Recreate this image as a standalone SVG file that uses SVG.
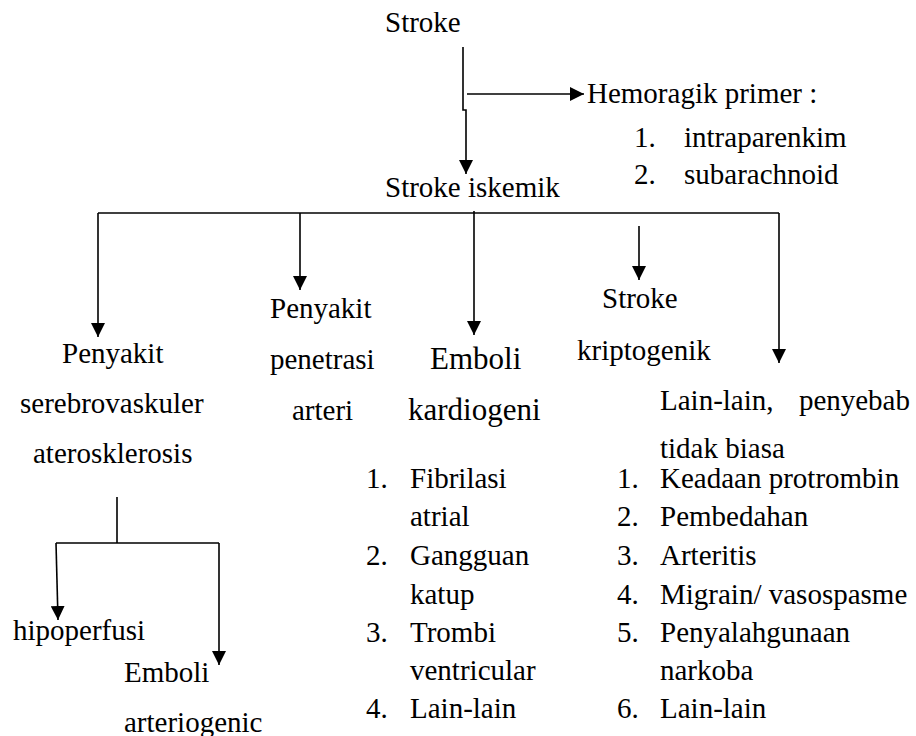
<svg xmlns="http://www.w3.org/2000/svg" width="916" height="736" viewBox="0 0 916 736">
<style>
text{font-family:"Liberation Serif","Times New Roman",serif;font-size:29px;fill:#000}
.big{font-size:31px}
.ln{fill:none;stroke:#000;stroke-width:1.6}
.ar{fill:none;stroke:#000;stroke-width:1.6;marker-end:url(#ah)}
</style>
<defs>
<marker id="ah" viewBox="0 0 10 10" refX="10" refY="5" markerWidth="14" markerHeight="14" markerUnits="userSpaceOnUse" orient="auto">
<path d="M0,0 L10,5 L0,10 z" fill="#000"/>
</marker>
</defs>
<rect width="916" height="736" fill="#fff"/>
<g id="connectors">
<path class="ar" d="M463 47 V110 H466 V174"/>
<path class="ar" d="M467 94 H584"/>
<path class="ln" d="M98 213 H779"/>
<path class="ar" d="M98 213 V337"/>
<path class="ar" d="M300 213 V290"/>
<path class="ar" d="M474 211 V335"/>
<path class="ar" d="M639 226 V280"/>
<path class="ar" d="M779 213 V363"/>
<path class="ln" d="M117 497 V543 M56 543 H219"/>
<path class="ar" d="M56 543 L58 620"/>
<path class="ar" d="M219 543 V665"/>
</g>
<g id="stroke"><text x="385" y="32">Stroke</text></g>
<g id="hemoragik">
<text x="587" y="103">Hemoragik primer :</text>
<text x="634" y="147">1.</text><text x="684" y="147">intraparenkim</text>
<text x="634" y="184">2.</text><text x="684" y="184">subarachnoid</text>
</g>
<g id="iskemik"><text x="385" y="197">Stroke iskemik</text></g>
<g id="serebrovaskuler">
<text x="62" y="363">Penyakit</text>
<text x="20" y="413">serebrovaskuler</text>
<text x="33" y="463">aterosklerosis</text>
</g>
<g id="penetrasi">
<text x="270" y="318">Penyakit</text>
<text x="270" y="369">penetrasi</text>
<text x="292" y="420">arteri</text>
</g>
<g id="kardiogeni">
<text class="big" x="430" y="369">Emboli</text>
<text class="big" x="408" y="420">kardiogeni</text>
<text x="366" y="488">1.</text><text x="410" y="488">Fibrilasi</text>
<text x="410" y="526">atrial</text>
<text x="366" y="565">2.</text><text x="410" y="565">Gangguan</text>
<text x="410" y="604">katup</text>
<text x="366" y="642">3.</text><text x="410" y="642">Trombi</text>
<text x="410" y="680">ventricular</text>
<text x="366" y="718">4.</text><text x="410" y="718">Lain-lain</text>
</g>
<g id="kriptogenik">
<text x="602" y="308">Stroke</text>
<text x="577" y="360">kriptogenik</text>
</g>
<g id="lainlain">
<text x="660" y="410">Lain-lain,</text><text x="910" y="410" text-anchor="end">penyebab</text>
<text x="660" y="458">tidak biasa</text>
<text x="617" y="488">1.</text><text x="660" y="488">Keadaan protrombin</text>
<text x="617" y="526">2.</text><text x="660" y="526">Pembedahan</text>
<text x="617" y="565">3.</text><text x="660" y="565">Arteritis</text>
<text x="617" y="604">4.</text><text x="660" y="604">Migrain/ vasospasme</text>
<text x="617" y="642">5.</text><text x="660" y="642">Penyalahgunaan</text>
<text x="660" y="680">narkoba</text>
<text x="617" y="718">6.</text><text x="660" y="718">Lain-lain</text>
</g>
<g id="hipoperfusi"><text x="13" y="640">hipoperfusi</text></g>
<g id="arteriogenic">
<text x="124" y="682">Emboli</text>
<text x="124" y="732">arteriogenic</text>
</g>
</svg>
